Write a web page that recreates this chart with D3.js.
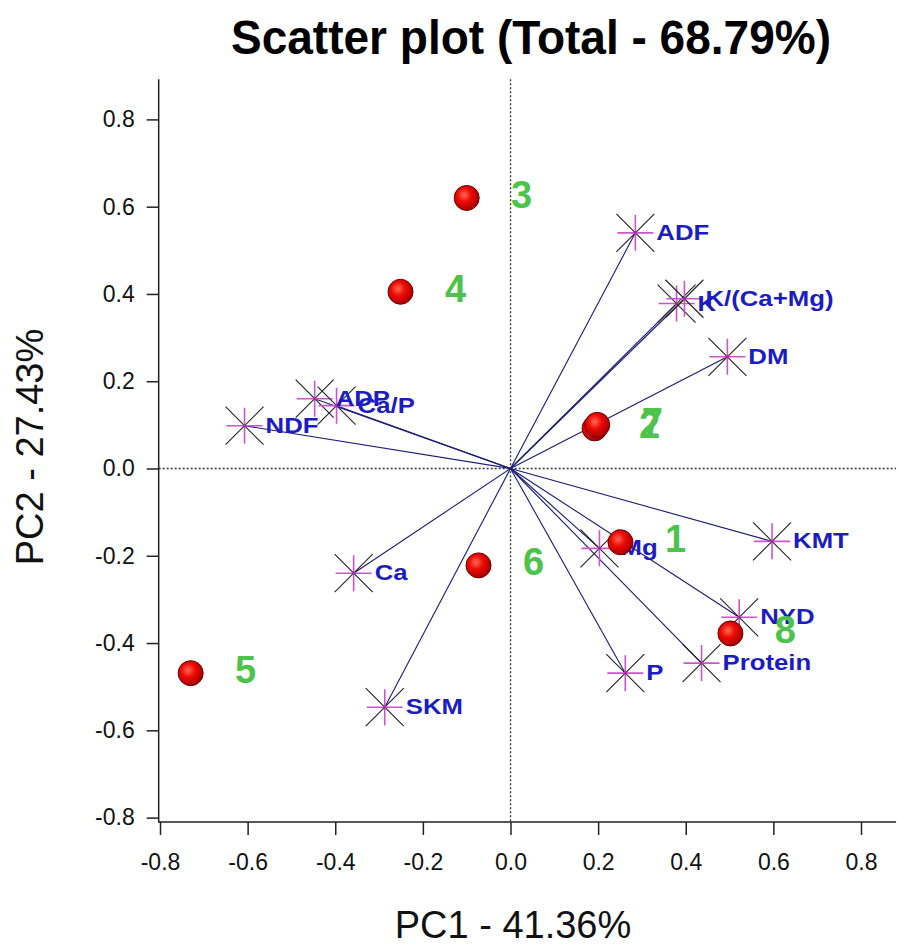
<!DOCTYPE html>
<html>
<head>
<meta charset="utf-8">
<script src="https://cdn.jsdelivr.net/npm/d3@7"></script>
<style>
  body { margin: 0; background: #fff; }
  svg { display: block; font-family: "Liberation Sans", Arial, sans-serif; }
</style>
</head>
<body>
<svg id="chart" width="898" height="947"></svg>
<script>
// sample scores (PC1, PC2)
const sampleNames = ["1", "2", "3", "4", "5", "6", "7", "8"];
const samplePC1 = [0.251, 0.192, -0.100, -0.251, -0.730, -0.073, 0.198, 0.502];
const samplePC2 = [-0.169, 0.092, 0.620, 0.405, -0.469, -0.222, 0.100, -0.378];

// variable loadings
const varNames = ["ADF", "K", "K/(Ca+Mg)", "DM", "KMT", "Mg", "NYD", "P", "Protein", "Ca", "SKM", "NDF", "ADP", "Ca/P"];
const varPC1 = [0.285, 0.379, 0.397, 0.495, 0.597, 0.203, 0.522, 0.262, 0.436, -0.358, -0.287, -0.607, -0.447, -0.397];
const varPC2 = [0.540, 0.378, 0.389, 0.256, -0.167, -0.183, -0.341, -0.469, -0.446, -0.240, -0.547, 0.098, 0.160, 0.144];

const xTicks = [-0.8, -0.6, -0.4, -0.2, 0.0, 0.2, 0.4, 0.6, 0.8];
const yTicks = [-0.8, -0.6, -0.4, -0.2, 0.0, 0.2, 0.4, 0.6, 0.8];

const titleText = "Scatter plot (Total - 68.79%)";
const xLabel = "PC1 - 41.36%";
const yLabel = "PC2 - 27.43%";

const svg = d3.select("#chart");

const x = d3.scaleLinear().domain([-0.8, 0.8]).range([160, 861]);
const y = d3.scaleLinear().domain([-0.8, 0.8]).range([817.6, 119.4]);

const fmt = d3.formatLocale({decimal: ".", thousands: ",", grouping: [3], currency: ["", ""], minus: "-"}).format(".1f");

const plotLeft = x(-0.803), plotRight = x(0.88), plotTop = y(0.892), plotBottom = y(-0.81);

// gradient for the sample balls
const defs = svg.append("defs");
const grad = defs.append("radialGradient")
  .attr("id", "ball")
  .attr("cx", "40%").attr("cy", "38%").attr("r", "62%");
grad.append("stop").attr("offset", "0%").attr("stop-color", "#ff6a55");
grad.append("stop").attr("offset", "45%").attr("stop-color", "#ee0a05");
grad.append("stop").attr("offset", "100%").attr("stop-color", "#a80000");

// zero lines
svg.append("line")
  .attr("x1", x(0)).attr("x2", x(0))
  .attr("y1", plotTop).attr("y2", plotBottom)
  .attr("stroke", "#333").attr("stroke-width", 1.3)
  .attr("stroke-dasharray", "2,2");
svg.append("line")
  .attr("x1", plotLeft).attr("x2", plotRight)
  .attr("y1", y(0)).attr("y2", y(0))
  .attr("stroke", "#333").attr("stroke-width", 1.3)
  .attr("stroke-dasharray", "2,2");

// axes
const xAxis = svg.append("g")
  .attr("transform", `translate(0,${plotBottom})`)
  .call(d3.axisBottom(x).tickValues(xTicks).tickFormat(fmt).tickSize(13).tickPadding(19));
const yAxis = svg.append("g")
  .attr("transform", `translate(${plotLeft},0)`)
  .call(d3.axisLeft(y).tickValues(yTicks).tickFormat(fmt).tickSize(12).tickPadding(12));

[xAxis, yAxis].forEach(function(g) {
  g.select(".domain").remove();
  g.selectAll(".tick line").attr("stroke", "#222").attr("stroke-width", 1.5);
  g.selectAll(".tick text")
    .attr("fill", "#111")
    .style("font-size", "23px")
    .style("font-family", "'Liberation Sans', Arial, sans-serif");
});

svg.append("line")
  .attr("x1", plotLeft).attr("x2", plotLeft)
  .attr("y1", plotTop).attr("y2", plotBottom + 0.75)
  .attr("stroke", "#222").attr("stroke-width", 1.5);
svg.append("line")
  .attr("x1", plotLeft).attr("x2", plotRight)
  .attr("y1", plotBottom).attr("y2", plotBottom)
  .attr("stroke", "#222").attr("stroke-width", 1.5);

// loading vectors
const vars = varNames.map(function(n, i) {
  return {name: n, pc1: varPC1[i], pc2: varPC2[i]};
});

svg.append("g").selectAll("line")
  .data(vars)
  .enter()
  .append("line")
  .attr("x1", x(0)).attr("y1", y(0))
  .attr("x2", d => x(d.pc1))
  .attr("y2", d => y(d.pc2))
  .attr("stroke", "#1a1a7a")
  .attr("stroke-width", 1.1);

// asterisk markers
const stars = svg.append("g").selectAll("g")
  .data(vars)
  .enter()
  .append("g")
  .attr("transform", d => `translate(${x(d.pc1)},${y(d.pc2)})`);

stars.append("path")
  .attr("d", "M-19,-19L19,19M-19,19L19,-19")
  .attr("stroke", "#222").attr("stroke-width", 1.1);
stars.append("path")
  .attr("d", "M-18,0L18,0M0,-18L0,18")
  .attr("stroke", "#cc55cc").attr("stroke-width", 1.6);
stars.append("circle")
  .attr("r", 1.5).attr("fill", "#993399");

// loading labels (slightly wide, as in the source picture)
svg.append("g").selectAll("text")
  .data(vars)
  .enter()
  .append("text")
  .attr("transform", d => `translate(${x(d.pc1) + 21},${y(d.pc2) + 7}) scale(1.12,1)`)
  .attr("fill", "#1c1cc4")
  .style("font-size", "23px")
  .style("font-weight", "bold")
  .text(d => d.name);

// samples
const samples = sampleNames.map(function(n, i) {
  return {name: n, pc1: samplePC1[i], pc2: samplePC2[i]};
});

svg.append("g").selectAll("circle")
  .data(samples)
  .enter()
  .append("circle")
  .attr("cx", d => x(d.pc1))
  .attr("cy", d => y(d.pc2))
  .attr("r", 12.5)
  .attr("fill", "url(#ball)")
  .attr("stroke", "#6a0000")
  .attr("stroke-width", 1);

svg.append("g").selectAll("text")
  .data(samples)
  .enter()
  .append("text")
  .attr("x", d => x(d.pc1) + 55)
  .attr("y", d => y(d.pc2) + 10)
  .attr("text-anchor", "middle")
  .attr("fill", "#4cc44c")
  .style("font-size", "38px")
  .style("font-weight", "bold")
  .text(d => d.name);

// titles
svg.append("text")
  .attr("x", 531).attr("y", 54)
  .attr("text-anchor", "middle")
  .attr("textLength", 600)
  .attr("lengthAdjust", "spacingAndGlyphs")
  .attr("fill", "#000")
  .style("font-size", "49px")
  .style("font-weight", "bold")
  .text(titleText);

svg.append("text")
  .attr("x", 513).attr("y", 938)
  .attr("text-anchor", "middle")
  .attr("fill", "#111")
  .style("font-size", "38px")
  .text(xLabel);

svg.append("text")
  .attr("transform", "translate(43,447) rotate(-90)")
  .attr("text-anchor", "middle")
  .attr("fill", "#111")
  .style("font-size", "38px")
  .text(yLabel);
</script>
</body>
</html>
